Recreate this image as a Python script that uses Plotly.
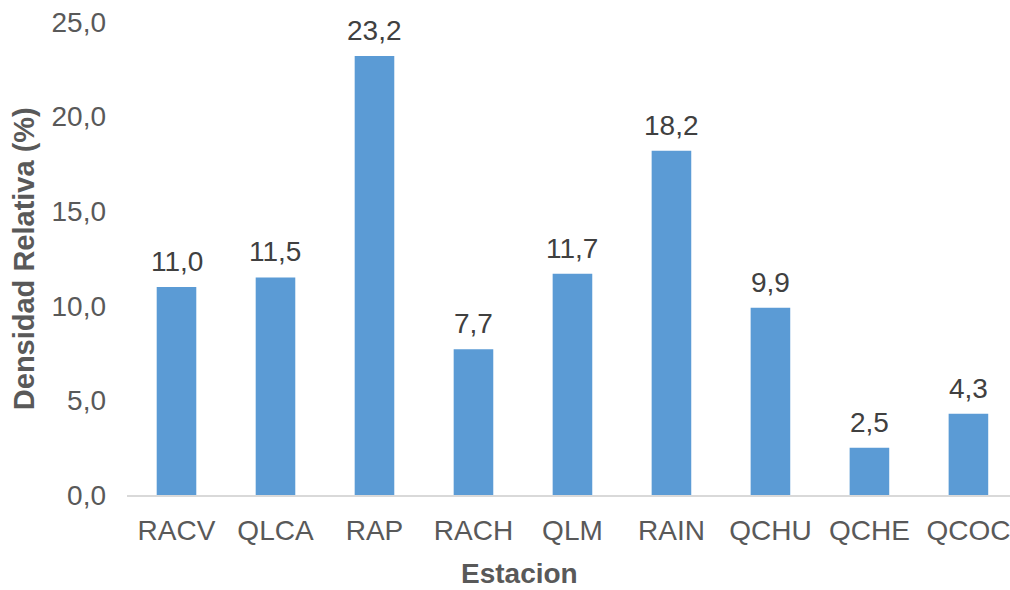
import plotly.graph_objects as go

# Relative density by sampling station
estaciones = ["RACV", "QLCA", "RAP", "RACH", "QLM", "RAIN", "QCHU", "QCHE", "QCOC"]
densidad = [11.0, 11.5, 23.2, 7.7, 11.7, 18.2, 9.9, 2.5, 4.3]
y_ticks = [0, 5, 10, 15, 20, 25]

FONT = "Liberation Sans, Arial, sans-serif"
BAR_COLOR = "#5B9BD5"

fig = go.Figure()
fig.add_trace(go.Bar(
    x=estaciones,
    y=densidad,
    marker=dict(color=BAR_COLOR, line=dict(width=0)),
    width=0.4,
    hoverinfo="x+y",
))

# value labels above each bar, taken from the same data
for cat, val in zip(estaciones, densidad):
    fig.add_annotation(
        x=cat, y=val, xref="x", yref="y",
        text=f"{val:.1f}".replace(".", ","),
        showarrow=False, yanchor="bottom", yshift=8,
        font=dict(family=FONT, size=28, color="#404040"),
    )

# axis titles
fig.add_annotation(
    x=(519 - 127) / 883, y=0, xref="paper", yref="paper",
    yshift=-95, borderpad=0,
    text="<b>Estacion</b>", showarrow=False, xanchor="center", yanchor="bottom",
    font=dict(family=FONT, size=28, color="#595959"),
)
fig.add_annotation(
    x=-0.117, y=0.5, xref="paper", yref="paper",
    text="<b>Densidad Relativa (%)</b>", showarrow=False, textangle=-90,
    xanchor="center", yanchor="middle",
    font=dict(family=FONT, size=29, color="#595959"),
)

fig.update_layout(
    width=1010, height=590,
    margin=dict(l=127, r=0, t=22, b=95),
    paper_bgcolor="white", plot_bgcolor="white",
    separators=",.",
    showlegend=False,
    bargap=0.6,
    xaxis=dict(
        range=[-0.5, 8.42],
        showgrid=False, zeroline=False,
        showline=True, linecolor="#D9D9D9", linewidth=1.5,
        ticks="", ticklabelstandoff=10,
        tickfont=dict(family=FONT, size=28, color="#595959"),
    ),
    yaxis=dict(
        range=[0, 25],
        tickvals=y_ticks, tickformat=".1f",
        showgrid=False, zeroline=False, showline=False,
        ticks="", ticklabelstandoff=20,
        tickfont=dict(family=FONT, size=28, color="#595959"),
    ),
)

fig.write_html("out.html")
